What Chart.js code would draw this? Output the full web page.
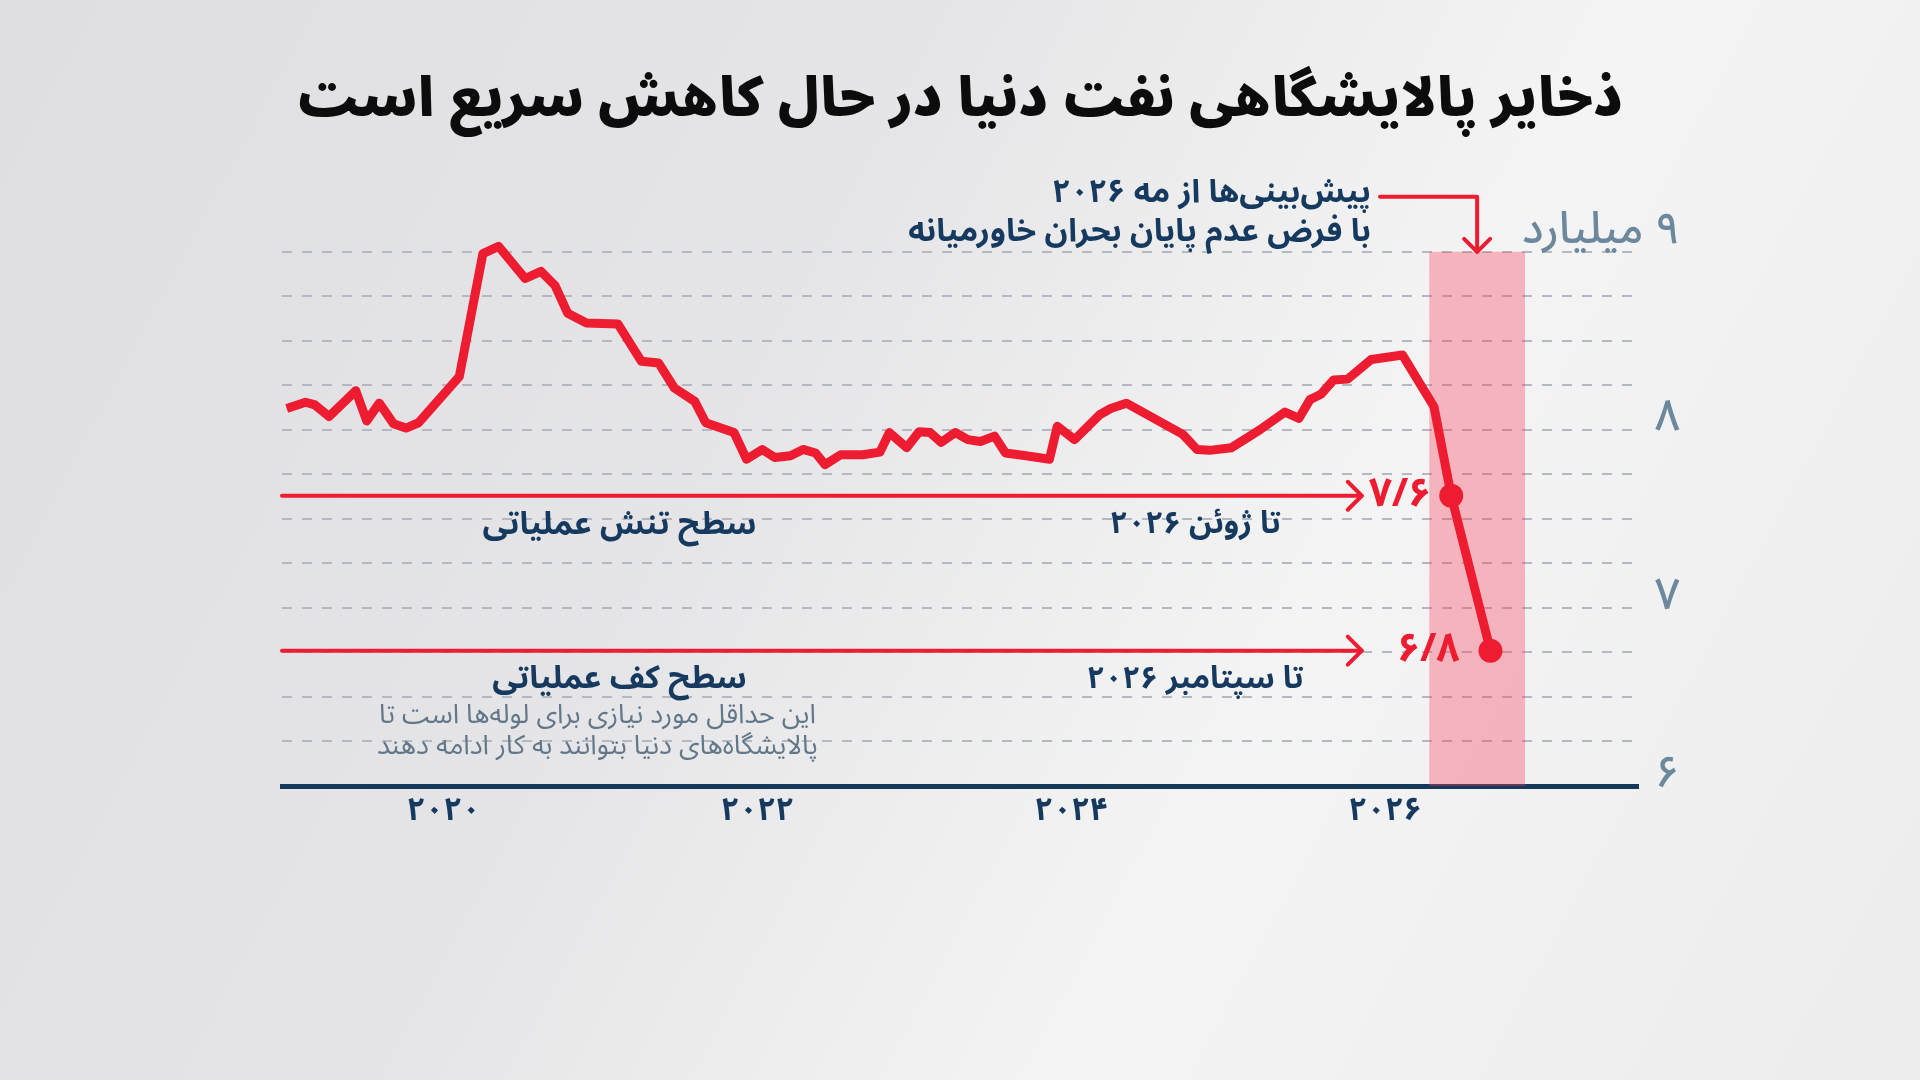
<!DOCTYPE html>
<html lang="fa">
<head>
<meta charset="utf-8">
<style>
html,body{margin:0;padding:0;width:1920px;height:1080px;overflow:hidden;}
body{background:linear-gradient(118deg,#dfdfe1 0%,#e5e5e7 38%,#efeff0 56%,#f4f4f5 66%,#ececed 100%);}
canvas{display:block;}
</style>
<script src="https://cdn.jsdelivr.net/npm/chart.js@4.4.1/dist/chart.umd.min.js"></script>
</head>
<body>
<canvas id="c" width="1920" height="1080" dir="rtl"></canvas>
<script>
// ---------- data ----------
const titleText = 'ذخایر پالایشگاهی نفت دنیا در حال کاهش سریع است';
const dates = [2019.00, 2019.12, 2019.18, 2019.27, 2019.44, 2019.51, 2019.59, 2019.68, 2019.76, 2019.84,
  2020.10, 2020.25, 2020.35, 2020.52, 2020.62, 2020.71, 2020.79, 2020.91,
  2021.11, 2021.26, 2021.37, 2021.47, 2021.60, 2021.67, 2021.85, 2021.93,
  2022.03, 2022.11, 2022.21, 2022.29, 2022.37, 2022.43, 2022.53, 2022.67, 2022.78, 2022.84, 2022.95,
  2023.03, 2023.10, 2023.17, 2023.26, 2023.34, 2023.42, 2023.51, 2023.58, 2023.71, 2023.86, 2023.91,
  2024.02, 2024.18, 2024.25, 2024.35, 2024.71, 2024.80, 2024.88,
  2025.02, 2025.20, 2025.36, 2025.45, 2025.52, 2025.59, 2025.67, 2025.76, 2025.91,
  2026.11, 2026.31, 2026.42, 2026.67];
const reserves = [8.12, 8.155, 8.14, 8.075, 8.22, 8.05, 8.15, 8.035, 8.01, 8.04,
  8.30, 8.99, 9.03, 8.85, 8.89, 8.81, 8.655, 8.60,
  8.595, 8.385, 8.375, 8.235, 8.16, 8.04, 7.985, 7.835,
  7.89, 7.845, 7.855, 7.89, 7.87, 7.805, 7.86, 7.86, 7.875, 7.985, 7.90,
  7.99, 7.985, 7.93, 7.985, 7.945, 7.935, 7.965, 7.87, 7.855, 7.835, 8.02,
  7.945, 8.085, 8.12, 8.15, 7.975, 7.89, 7.885,
  7.90, 8.00, 8.10, 8.065, 8.17, 8.20, 8.28, 8.285, 8.395,
  8.42, 8.13, 7.63, 6.76];
const yearTicks = [2020, 2022, 2024, 2026];
const yLabelValues = [6, 7, 8, 9];
const yLabelTexts = ['۶', '۷', '۸', '۹ میلیارد'];
const forecastRange = [2026.28, 2026.89];
const levelValues = [7.63, 6.76];
const levelDateValues = [2026.42, 2026.67];
const levelLabels = ['۷/۶', '۶/۸'];
const levelNames = ['سطح تنش عملیاتی', 'سطح کف عملیاتی'];
const levelDates = ['تا ژوئن ۲۰۲۶', 'تا سپتامبر ۲۰۲۶'];
const floorNote = ['این حداقل مورد نیازی برای لوله‌ها است تا', 'پالایشگاه‌های دنیا بتوانند به کار ادامه دهند'];
const forecastNote = ['پیش‌بینی‌ها از مه ۲۰۲۶', 'با فرض عدم پایان بحران خاورمیانه'];

// ---------- style ----------
const FONT = "'Noto Sans Arabic','Vazirmatn','DejaVu Sans',sans-serif";
const RED = '#ee1c31';
const NAVY = '#163a5f';
const SLATE = '#6c889d';
const GREY = '#62778a';
const toFa = s => String(s).replace(/\d/g, d => '۰۱۲۳۴۵۶۷۸۹'[d]);

function txt(ctx, s, x, y, size, weight, color, align) {
  ctx.save();
  ctx.direction = 'rtl';
  ctx.font = weight + ' ' + size + 'px ' + FONT;
  ctx.fillStyle = color;
  ctx.textAlign = align;
  ctx.textBaseline = 'middle';
  ctx.fillText(s, x, y);
  ctx.restore();
}
function chevron(ctx, x, y, dx, dy, len) {
  const px = -dy, py = dx;
  ctx.beginPath();
  ctx.moveTo(x - dx * len + px * len, y - dy * len + py * len);
  ctx.lineTo(x, y);
  ctx.lineTo(x - dx * len - px * len, y - dy * len - py * len);
  ctx.stroke();
}

const shadePlugin = {
  id: 'shade',
  beforeDatasetsDraw(chart) {
    const {ctx, scales: {x, y}} = chart;
    const x0 = x.getPixelForValue(forecastRange[0]);
    const x1 = x.getPixelForValue(forecastRange[1]);
    const yt = y.getPixelForValue(9), yb = y.getPixelForValue(6);
    ctx.save();
    ctx.fillStyle = 'rgba(245,60,85,0.35)';
    ctx.fillRect(x0, yt, x1 - x0, yb - yt);
    ctx.restore();
  }
};

const annotPlugin = {
  id: 'annot',
  beforeDatasetsDraw(chart) {
    const {ctx, chartArea, scales: {x, y}} = chart;
    ctx.save();
    ctx.strokeStyle = RED;
    ctx.lineWidth = 4;
    ctx.lineCap = 'round';
    ctx.lineJoin = 'round';
    const arrowEnd = x.getPixelForValue(2025.85);
    levelValues.forEach(v => {
      const py = y.getPixelForValue(v);
      ctx.beginPath();
      ctx.moveTo(chartArea.left, py);
      ctx.lineTo(arrowEnd, py);
      ctx.stroke();
      chevron(ctx, arrowEnd, py, 1, 0, 14);
    });
    const cx = x.getPixelForValue((forecastRange[0] + forecastRange[1]) / 2);
    const cy = chartArea.top - 55;
    ctx.beginPath();
    ctx.moveTo(1380, cy);
    ctx.lineTo(cx, cy);
    ctx.lineTo(cx, chartArea.top);
    ctx.stroke();
    chevron(ctx, cx, chartArea.top, 0, 1, 13);
    ctx.restore();
  },
  afterDatasetsDraw(chart) {
    const {ctx, chartArea, scales: {x, y}} = chart;
    levelValues.forEach((v, i) => {
      const py = y.getPixelForValue(v);
      const px = x.getPixelForValue(levelDateValues[i]);
      txt(ctx, levelLabels[i], px - (i === 0 ? 20 : 31), py + 4, 40, 'bold', RED, 'right');
      txt(ctx, levelNames[i], x.getPixelForValue(2021.12), py + 33, 32, 'bold', NAVY, 'center');
      txt(ctx, levelDates[i], x.getPixelForValue(2024.79), py + 33, 31, 'bold', NAVY, 'center');
    });
    const fy = y.getPixelForValue(levelValues[1]);
    txt(ctx, floorNote[0], x.getPixelForValue(2020.98), fy + 68, 27, 'normal', GREY, 'center');
    txt(ctx, floorNote[1], x.getPixelForValue(2020.98), fy + 99, 27, 'normal', GREY, 'center');
    txt(ctx, forecastNote[0], 1371, chartArea.top - 55, 32, 'bold', NAVY, 'right');
    txt(ctx, forecastNote[1], 1371, chartArea.top - 16, 32, 'bold', NAVY, 'right');
    yLabelValues.forEach((v, i) => {
      txt(ctx, yLabelTexts[i], 1680, y.getPixelForValue(v) - (i === 3 ? 15 : 6), 44, '500', SLATE, 'right');
    });
  }
};

new Chart(document.getElementById('c'), {
  type: 'line',
  data: {
    datasets: [{
      data: dates.map((d, i) => ({x: d, y: reserves[i]})),
      borderColor: RED,
      backgroundColor: RED,
      borderWidth: 9,
      borderJoinStyle: 'round',
      tension: 0,
      pointRadius: c => (c.dataIndex >= reserves.length - 2 ? 12 : 0),
      pointHoverRadius: 0,
      pointBackgroundColor: RED,
      pointBorderWidth: 0,
      clip: false
    }]
  },
  options: {
    responsive: false,
    animation: false,
    devicePixelRatio: 1,
    layout: {padding: {left: 282, right: 282, top: 0, bottom: 236.6}},
    plugins: {
      legend: {display: false},
      tooltip: {enabled: false},
      title: {
        display: true,
        text: titleText,
        color: '#0c0c0c',
        font: {family: FONT, size: 54, weight: '900'},
        padding: {top: 75, bottom: 112}
      }
    },
    scales: {
      x: {
        type: 'linear',
        min: 2018.97,
        max: 2027.61,
        afterBuildTicks: s => { s.ticks = yearTicks.map(v => ({value: v})); },
        ticks: {
          callback: v => toFa(v),
          color: NAVY,
          font: {family: FONT, size: 32, weight: 'bold'},
          padding: 9.5,
          maxRotation: 0,
          autoSkip: false
        },
        grid: {display: false, drawTicks: false},
        border: {display: true, color: '#15385b', width: 5}
      },
      y: {
        position: 'right',
        min: 6,
        max: 9,
        ticks: {display: false, stepSize: 0.25},
        grid: {color: '#b3b8c2', lineWidth: 2, drawTicks: false},
        border: {display: false, dash: [10, 10]}
      }
    }
  },
  plugins: [shadePlugin, annotPlugin]
});
</script>
</body>
</html>
